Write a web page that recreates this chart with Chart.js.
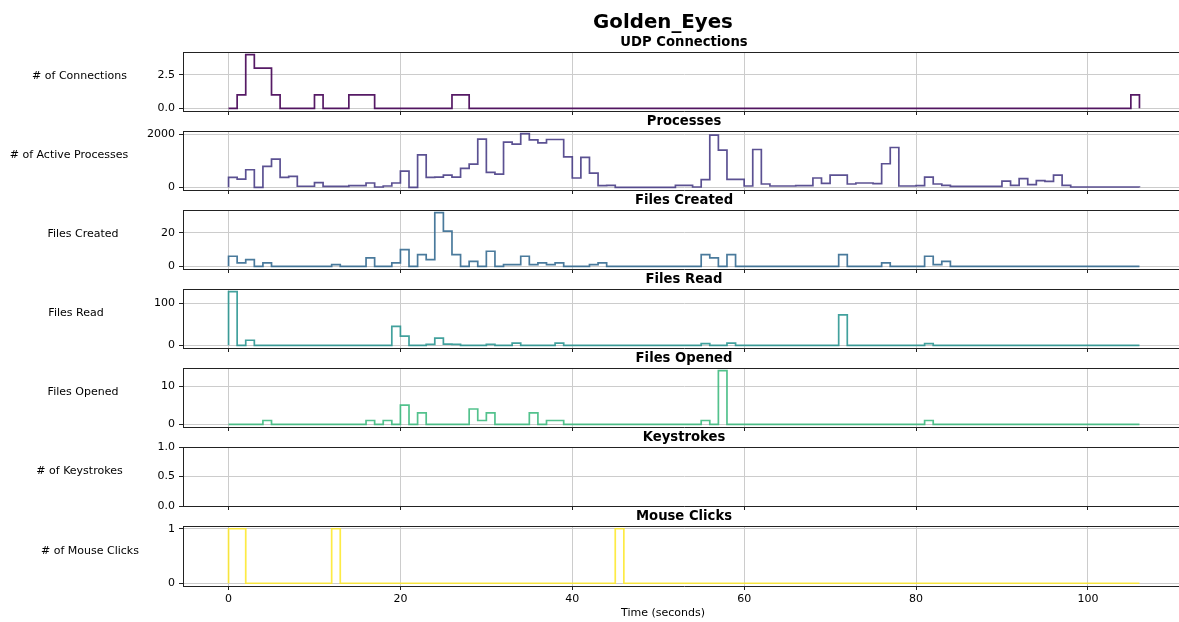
<!DOCTYPE html>
<html>
<head>
<meta charset="utf-8">
<script src="https://cdn.jsdelivr.net/npm/chart.js@4.4.1/dist/chart.umd.min.js"></script>
<style>
  html, body { margin: 0; padding: 0; background: #fff; overflow: hidden; width: 1179px; height: 622px; }
  #fig { position: relative; width: 1179px; height: 622px; overflow: hidden; }
  #fig canvas { position: absolute; left: 0; }
</style>
</head>
<body>
<div id="fig"></div>
<script>
// Per-second activity counts for one run, one bin per second (0..106 s)
const connections = [
  0, 1, 4, 3, 3, 1, 0, 0, 0, 0,
  1, 0, 0, 0, 1, 1, 1, 0, 0, 0,
  0, 0, 0, 0, 0, 0, 1, 1, 0, 0,
  0, 0, 0, 0, 0, 0, 0, 0, 0, 0,
  0, 0, 0, 0, 0, 0, 0, 0, 0, 0,
  0, 0, 0, 0, 0, 0, 0, 0, 0, 0,
  0, 0, 0, 0, 0, 0, 0, 0, 0, 0,
  0, 0, 0, 0, 0, 0, 0, 0, 0, 0,
  0, 0, 0, 0, 0, 0, 0, 0, 0, 0,
  0, 0, 0, 0, 0, 0, 0, 0, 0, 0,
  0, 0, 0, 0, 0, 1
];
const activeProcesses = [
  375, 312, 662, 0, 787, 1062, 375, 412, 40, 40,
  175, 37, 37, 37, 62, 62, 162, 12, 50, 162,
  612, 0, 1225, 375, 387, 462, 387, 712, 875, 1812,
  562, 500, 1700, 1625, 2020, 1787, 1675, 1800, 1800, 1150,
  350, 1125, 537, 62, 75, 0, 0, 0, 0, 0,
  0, 0, 75, 75, 12, 287, 1962, 1400, 300, 300,
  50, 1425, 125, 50, 50, 50, 62, 62, 350, 150,
  462, 462, 125, 162, 162, 137, 887, 1500, 50, 50,
  62, 387, 125, 75, 37, 37, 37, 37, 37, 37,
  237, 75, 325, 100, 250, 225, 462, 75, 12, 12,
  12, 12, 12, 12, 12, 12
];
const filesCreated = [
  6, 2, 4, 0, 2, 0, 0, 0, 0, 0,
  0, 0, 1, 0, 0, 0, 5, 0, 0, 2,
  10, 0, 7, 4, 32, 21, 7, 0, 3, 0,
  9, 0, 1, 1, 6, 1, 2, 1, 2, 0,
  0, 0, 1, 2, 0, 0, 0, 0, 0, 0,
  0, 0, 0, 0, 0, 7, 5, 0, 7, 0,
  0, 0, 0, 0, 0, 0, 0, 0, 0, 0,
  0, 7, 0, 0, 0, 0, 2, 0, 0, 0,
  0, 6, 1, 3, 0, 0, 0, 0, 0, 0,
  0, 0, 0, 0, 0, 0, 0, 0, 0, 0,
  0, 0, 0, 0, 0, 0
];
const filesRead = [
  127, 0, 12, 0, 0, 0, 0, 0, 0, 0,
  0, 0, 0, 0, 0, 0, 0, 0, 0, 45,
  22, 0, 0, 2, 17, 3, 2, 0, 0, 0,
  2, 0, 0, 5, 0, 0, 0, 0, 5, 0,
  0, 0, 0, 0, 0, 0, 0, 0, 0, 0,
  0, 0, 0, 0, 0, 4, 0, 0, 5, 0,
  0, 0, 0, 0, 0, 0, 0, 0, 0, 0,
  0, 72, 0, 0, 0, 0, 0, 0, 0, 0,
  0, 4, 0, 0, 0, 0, 0, 0, 0, 0,
  0, 0, 0, 0, 0, 0, 0, 0, 0, 0,
  0, 0, 0, 0, 0, 0
];
const filesOpened = [
  0, 0, 0, 0, 1, 0, 0, 0, 0, 0,
  0, 0, 0, 0, 0, 0, 1, 0, 1, 0,
  5, 0, 3, 0, 0, 0, 0, 0, 4, 1,
  3, 0, 0, 0, 0, 3, 0, 1, 1, 0,
  0, 0, 0, 0, 0, 0, 0, 0, 0, 0,
  0, 0, 0, 0, 0, 1, 0, 14, 0, 0,
  0, 0, 0, 0, 0, 0, 0, 0, 0, 0,
  0, 0, 0, 0, 0, 0, 0, 0, 0, 0,
  0, 1, 0, 0, 0, 0, 0, 0, 0, 0,
  0, 0, 0, 0, 0, 0, 0, 0, 0, 0,
  0, 0, 0, 0, 0, 0
];
const keystrokes = [];   // no keystrokes were recorded
const mouseClicks = [
  1, 1, 0, 0, 0, 0, 0, 0, 0, 0,
  0, 0, 1, 0, 0, 0, 0, 0, 0, 0,
  0, 0, 0, 0, 0, 0, 0, 0, 0, 0,
  0, 0, 0, 0, 0, 0, 0, 0, 0, 0,
  0, 0, 0, 0, 0, 1, 0, 0, 0, 0,
  0, 0, 0, 0, 0, 0, 0, 0, 0, 0,
  0, 0, 0, 0, 0, 0, 0, 0, 0, 0,
  0, 0, 0, 0, 0, 0, 0, 0, 0, 0,
  0, 0, 0, 0, 0, 0, 0, 0, 0, 0,
  0, 0, 0, 0, 0, 0, 0, 0, 0, 0,
  0, 0, 0, 0, 0, 0
];

const figureTitle = 'Golden_Eyes';
const xAxisTitle = 'Time (seconds)';
const panelTitles = ['UDP Connections', 'Processes', 'Files Created', 'Files Read', 'Files Opened', 'Keystrokes', 'Mouse Clicks'];
const yLabels = ['# of Connections', '# of Active Processes', 'Files Created', 'Files Read', 'Files Opened', '# of Keystrokes', '# of Mouse Clicks'];
const xTicks = [0, 20, 40, 60, 80, 100];
const yTickValues = [[0, 2.5], [0, 2000], [0, 20], [0, 100], [0, 10], [0, 0.5, 1], [0, 1]];
const yTickLabels = [['0.0', '2.5'], ['0', '2000'], ['0', '20'], ['0', '100'], ['0', '10'], ['0.0', '0.5', '1.0'], ['0', '1']];

// ---- styling / layout ----
const series = [connections, activeProcesses, filesCreated, filesRead, filesOpened, keystrokes, mouseClicks];
const lineColors = [
  'rgba(68,1,84,0.9)', 'rgba(68,57,131,0.88)', 'rgba(49,104,142,0.88)', 'rgba(33,145,140,0.85)',
  'rgba(53,183,121,0.85)', 'rgba(144,215,67,0.85)', 'rgba(253,231,37,0.85)'
];
const FONT = 'DejaVu Sans';
const AXES_LEFT = 183;      // left spine
const AXES_RIGHT = 1185;    // right spine (runs off the page edge)
const FIRST_TOP = 52;
const ROW_STEP = 79;
const AXES_H = 59;
const FIG_CENTER_X = 663;
const nBins = connections.length;

Chart.defaults.font.family = FONT;
Chart.defaults.font.size = 11;
Chart.defaults.color = '#000';

const fig = document.getElementById('fig');

// fixed-size axes: no extra room reserved for edge tick labels
function noEdgePadding(s) {
  s.paddingTop = 0; s.paddingBottom = 0; s.paddingLeft = 0; s.paddingRight = 0;
}

series.forEach((vals, i) => {
  const last = i === series.length - 1;
  const top = FIRST_TOP + i * ROW_STEP;
  const canvasTop = i === 0 ? 0 : top - 40;
  const padTop = top - canvasTop;
  const xAxisH = last ? 36 : 8;
  const axesH = last ? AXES_H + 1 : AXES_H;
  const canvasH = padTop + axesH + xAxisH;

  const canvas = document.createElement('canvas');
  canvas.width = AXES_RIGHT;
  canvas.height = canvasH;
  canvas.style.top = canvasTop + 'px';
  canvas.style.width = AXES_RIGHT + 'px';
  canvas.style.height = canvasH + 'px';
  fig.appendChild(canvas);

  // stair outline: rise from 0 at the first edge, one flat step per bin, drop back to 0 at the last edge
  const pts = vals.length
    ? [{ x: 0, y: 0 }, ...vals.map((v, k) => ({ x: k, y: v })), { x: vals.length, y: 0 }]
    : [];

  let yMin = 0, yMax = 1;
  if (vals.length) {
    const lo = Math.min(0, ...vals), hi = Math.max(0, ...vals);
    const span = hi - lo;
    yMin = lo - 0.05 * span;
    yMax = hi + 0.05 * span;
  }

  const panelText = {
    id: 'panelText',
    afterDatasetsDraw(chart) {
      const { ctx, chartArea: a } = chart;
      ctx.save();
      // top spine
      ctx.strokeStyle = '#222';
      ctx.lineWidth = 1;
      ctx.beginPath();
      ctx.moveTo(a.left, Math.round(a.top) + 0.5);
      ctx.lineTo(a.right, Math.round(a.top) + 0.5);
      ctx.stroke();

      ctx.fillStyle = '#000';
      // panel title
      ctx.font = 'bold 13.2px "' + FONT + '"';
      ctx.textAlign = 'center';
      ctx.textBaseline = 'alphabetic';
      ctx.fillText(panelTitles[i], (a.left + a.right) / 2, a.top - 6.4);

      // horizontal y label, placed left of the tick labels
      ctx.font = '11px "' + FONT + '"';
      let w = 0;
      yTickLabels[i].forEach(t => { w = Math.max(w, ctx.measureText(t).width); });
      const tickLeft = a.left - 8 - w;
      ctx.textBaseline = 'middle';
      ctx.fillText(yLabels[i], tickLeft - 78, (a.top + a.bottom) / 2 - 5);

      if (i === 0) {
        ctx.font = 'bold 19.8px "' + FONT + '"';
        ctx.textBaseline = 'alphabetic';
        ctx.fillText(figureTitle, FIG_CENTER_X, 28);
      }
      if (last) {
        ctx.font = '11px "' + FONT + '"';
        ctx.textBaseline = 'alphabetic';
        ctx.fillText(xAxisTitle, FIG_CENTER_X, a.bottom + 30);
      }
      ctx.restore();
    }
  };

  new Chart(canvas, {
    type: 'line',
    data: {
      datasets: [{
        data: pts,
        borderColor: lineColors[i],
        borderWidth: 1.7,
        pointRadius: 0,
        stepped: 'before',
        fill: false,
        tension: 0
      }]
    },
    options: {
      responsive: false,
      animation: false,
      devicePixelRatio: 1,
      events: [],
      layout: { autoPadding: false, padding: { top: padTop, left: 0, right: 0, bottom: 0 } },
      plugins: { legend: { display: false }, tooltip: { enabled: false }, title: { display: false } },
      scales: {
        x: {
          type: 'linear',
          min: -0.05 * nBins,
          max: nBins * 1.05,
          afterBuildTicks: s => { s.ticks = xTicks.map(v => ({ value: v })); },
          afterFit: s => { s.height = xAxisH; noEdgePadding(s); },
          grid: { color: '#cccccc', lineWidth: 1, drawTicks: true, tickLength: 4, tickColor: '#222' },
          border: { display: true, color: '#222', width: 1 },
          ticks: {
            display: last, padding: 3, maxRotation: 0, autoSkip: false,
            font: { size: 11 }, color: '#000',
            callback: v => String(v)
          }
        },
        y: {
          type: 'linear',
          min: yMin,
          max: yMax,
          afterBuildTicks: s => { s.ticks = yTickValues[i].map(v => ({ value: v })); },
          afterFit: s => { s.width = AXES_LEFT; noEdgePadding(s); },
          grid: { color: '#cccccc', lineWidth: 1, drawTicks: true, tickLength: 4, tickColor: '#222' },
          border: { display: true, color: '#222', width: 1 },
          ticks: {
            padding: 4, font: { size: 11 }, color: '#000', autoSkip: false,
            callback: (v, idx) => yTickLabels[i][idx]
          }
        }
      }
    },
    plugins: [panelText]
  });
});
</script>
</body>
</html>
